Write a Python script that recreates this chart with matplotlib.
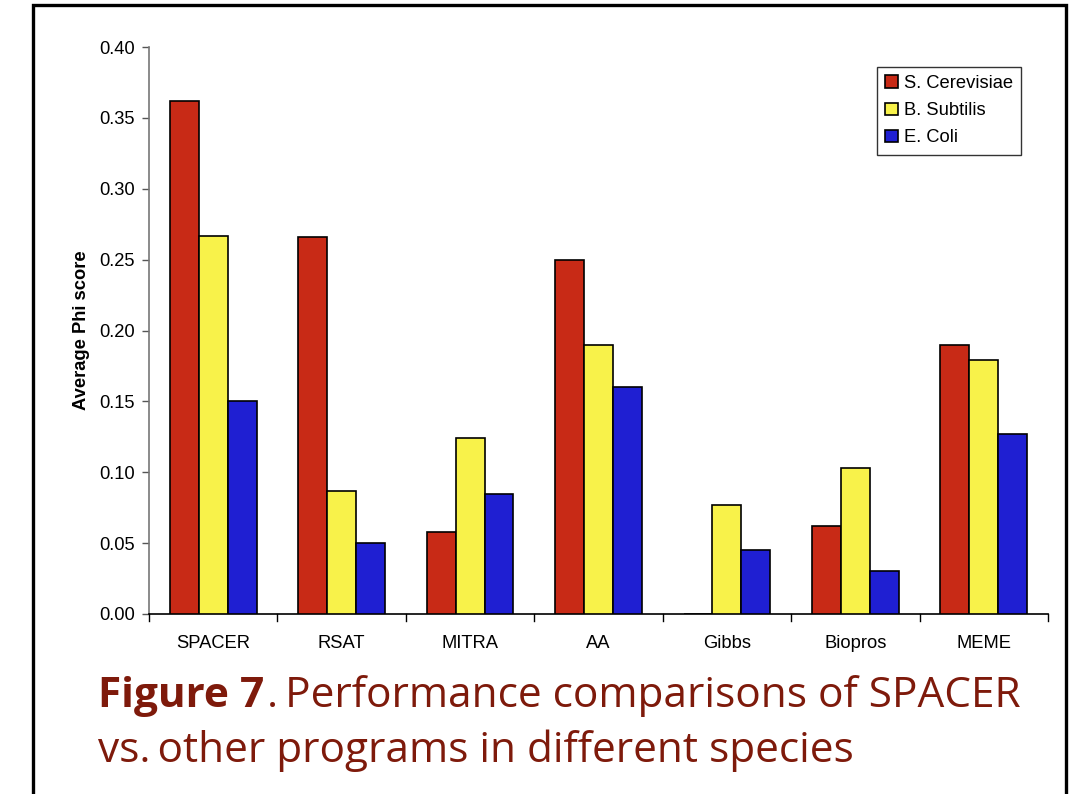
import matplotlib
matplotlib.use("Agg")
import matplotlib.pyplot as plt
import numpy as np
from matplotlib.patches import Rectangle

programs = ["SPACER", "RSAT", "MITRA", "AA", "Gibbs", "Biopros", "MEME"]
species = ["S. Cerevisiae", "B. Subtilis", "E. Coli"]
s_cerevisiae = [0.362, 0.266, 0.058, 0.250, 0.0, 0.062, 0.190]
b_subtilis = [0.267, 0.087, 0.124, 0.190, 0.077, 0.103, 0.179]
e_coli = [0.150, 0.050, 0.085, 0.160, 0.045, 0.030, 0.127]
yticks = [0.00, 0.05, 0.10, 0.15, 0.20, 0.25, 0.30, 0.35, 0.40]
colors = ["#C82A16", "#F8F24A", "#1F1FD2"]

W, H = 1081, 794
fig = plt.figure(figsize=(W / 100, H / 100), dpi=100)

# outer frame
fig.patches.append(Rectangle((33 / W, -0.05), (1066 - 33) / W, 1.05 - 5 / H,
                             transform=fig.transFigure, fill=False,
                             edgecolor="black", linewidth=2.4, zorder=0))

ax = fig.add_axes([149 / W, 1 - 614 / H, (1048 - 149) / W, (614 - 47) / H])
font = "Liberation Sans"
fs = 13.2
x = np.arange(len(programs))
bw = 0.225
for i, (vals, lab) in enumerate(zip([s_cerevisiae, b_subtilis, e_coli], species)):
    ax.bar(x + (i - 1) * bw, vals, width=bw, color=colors[i], edgecolor="black",
           linewidth=1.2, label=lab, zorder=3)

ax.set_xlim(-0.5, len(programs) - 0.5)
ax.set_ylim(0, 0.40)
ax.set_yticks(yticks)
ax.set_yticklabels([f"{v:.2f}" for v in yticks], fontname=font, fontsize=fs)
ax.set_xticks(x)
ax.set_xticklabels(programs, fontname=font, fontsize=fs)
ax.tick_params(axis="x", length=0, pad=15)
ax.tick_params(axis="y", length=5, width=1, color="#555555", pad=5)
# category separator ticks on x axis
for b in np.arange(-0.5, len(programs), 1.0):
    ax.plot([b, b], [0, -0.005], color="black", lw=1, clip_on=False, zorder=4)

for s in ["top", "right"]:
    ax.spines[s].set_visible(False)
ax.spines["left"].set_color("#777777")
ax.spines["left"].set_linewidth(1.2)
ax.spines["bottom"].set_color("black")
ax.spines["bottom"].set_linewidth(1.2)

ax.set_ylabel("Average Phi score", fontname=font, fontsize=fs, fontweight="bold")
ax.yaxis.set_label_coords((90 - 149) / (1048 - 149), 0.5)

leg = ax.legend(loc="upper right", bbox_to_anchor=(1021 / W, 1 - 67 / H),
                bbox_transform=fig.transFigure, frameon=True, fancybox=False,
                prop={"family": font, "size": fs}, handlelength=0.7,
                handleheight=0.7, handletextpad=0.3, borderpad=0.45,
                labelspacing=0.55, borderaxespad=0)
leg.get_frame().set_edgecolor("black")
leg.get_frame().set_linewidth(1.0)

cap_color = "#7E1A0B"
capfont = "Open Sans"
capfs = 30.5
t1 = fig.text(98 / W, 1 - 707 / H, "Figure 7", fontname=capfont, fontsize=capfs,
              fontweight="bold", color=cap_color, va="baseline")
fig.canvas.draw()
bb = t1.get_window_extent()
fig.text((bb.x1 + 3) / W, 1 - 707 / H, ".\u2009Performance comparisons of SPACER",
         fontname=capfont, fontsize=capfs, color=cap_color, va="baseline")
fig.text(98 / W, 1 - 762 / H, "vs.\u2009other programs in different species",
         fontname=capfont, fontsize=capfs, color=cap_color, va="baseline")

fig.savefig("out.png", dpi=100)
